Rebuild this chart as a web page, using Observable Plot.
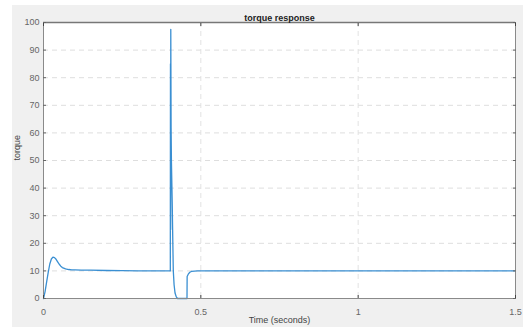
<!DOCTYPE html>
<html>
<head>
<meta charset="utf-8">
<script src="https://cdn.jsdelivr.net/npm/d3@7"></script>
<script src="https://cdn.jsdelivr.net/npm/@observablehq/plot@0.6"></script>
<style>
  html, body { margin: 0; padding: 0; background: #fff; }
  #wrap { position: relative; width: 523px; height: 332px; overflow: hidden; }
  #bg { position: absolute; left: 12px; top: 5px; width: 511px; height: 322px; background: #f0f0f0; }
  #chart { position: absolute; left: 0; top: 0; }
</style>
</head>
<body>
<div id="wrap"><div id="bg"></div><div id="chart"></div></div>
<script>
const title = "torque response";
const xLabel = "Time (seconds)";
const yLabel = "torque";
const xTicks = [0, 0.5, 1, 1.5];
const yTicks = [0, 10, 20, 30, 40, 50, 60, 70, 80, 90, 100];

const time = [
  0, 0.005, 0.01, 0.015, 0.02, 0.025, 0.03, 0.035, 0.04, 0.045, 0.05, 0.055, 0.06, 0.07, 0.08, 0.09,
  0.1, 0.12, 0.15, 0.2, 0.25, 0.3, 0.35, 0.403,
  0.4035, 0.404, 0.4045, 0.4055, 0.4065, 0.409, 0.411, 0.4125, 0.415, 0.418, 0.422, 0.426,
  0.456, 0.4565, 0.46, 0.465, 0.47, 0.48, 0.49, 0.5, 1.0, 1.5
];
const torque = [
  0, 2.5, 6, 9.5, 12.5, 14.3, 15, 14.8, 14.2, 13.3, 12.4, 11.7, 11.2, 10.7, 10.5, 10.4,
  10.35, 10.3, 10.25, 10.15, 10.08, 10.03, 10.01, 10,
  85, 25, 97.5, 62, 50, 35, 20, 10, 5, 2, 0.6, 0,
  0, 8, 8.8, 9.5, 9.8, 9.95, 10, 10, 10, 10
];

const data = time.map((t, i) => ({t, v: torque[i]}));

const plot = Plot.plot({
  width: 523,
  height: 332,
  marginLeft: 43,
  marginRight: 8,
  marginTop: 22,
  marginBottom: 34,
  style: {background: "transparent", fontFamily: "'Liberation Sans', Arial, sans-serif", fontSize: "9px"},
  x: {domain: [0, 1.5]},
  y: {domain: [0, 100]},
  marks: [
    Plot.frame({fill: "white", stroke: null}),
    Plot.gridY(yTicks, {stroke: "#dedede", strokeOpacity: 1, strokeDasharray: "5,4"}),
    Plot.gridX(xTicks, {stroke: "#e2e2e2", strokeOpacity: 1, strokeDasharray: "5,4"}),
    Plot.line(data, {x: "t", y: "v", stroke: "#3a8fd2", strokeWidth: 1.3}),
    Plot.frame({stroke: "#8a8a8a", strokeWidth: 1}),
    Plot.ruleY([100], {stroke: "#777", strokeWidth: 1.5}),
    Plot.axisY(yTicks, {anchor: "left", tickSize: 0, tickPadding: 4, color: "#666", label: null}),
    Plot.axisY(yTicks, {anchor: "left", tickSize: -3, text: null, stroke: "#666", label: null}),
    Plot.axisY(yTicks, {anchor: "right", tickSize: -3, text: null, stroke: "#666", label: null}),
    Plot.axisX(xTicks, {anchor: "bottom", tickSize: 0, tickPadding: 10, color: "#666", tickFormat: d => String(d), label: null}),
    Plot.axisX(xTicks, {anchor: "bottom", tickSize: -3, text: null, stroke: "#444", label: null}),
    Plot.axisX(xTicks, {anchor: "top", tickSize: -3, text: null, stroke: "#444", label: null}),
    Plot.text([title], {frameAnchor: "top", dy: -8, fontWeight: "bold", fill: "#222", fontSize: 9}),
    Plot.text([xLabel], {frameAnchor: "bottom", dy: 24, fill: "#444", fontSize: 9}),
    Plot.text([yLabel], {frameAnchor: "left", dx: -26, rotate: -90, fill: "#444", fontSize: 9})
  ]
});
document.getElementById("chart").appendChild(plot);
</script>
</body>
</html>
